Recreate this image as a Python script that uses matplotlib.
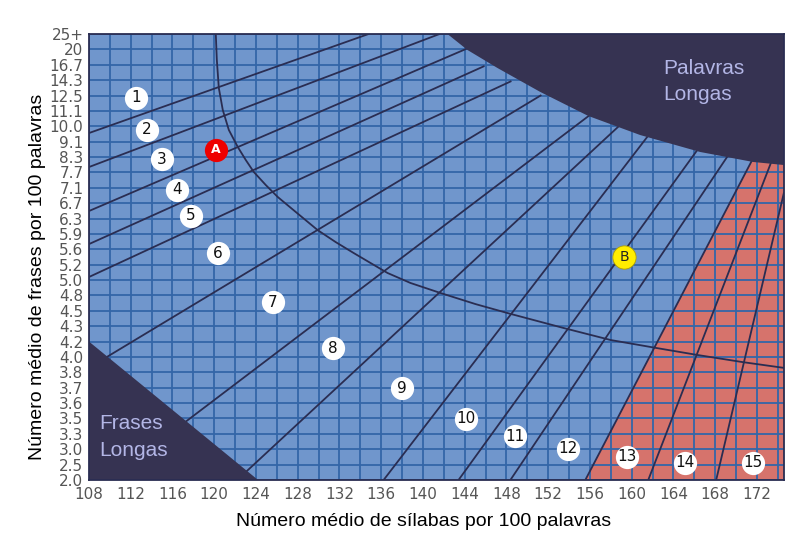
import matplotlib
matplotlib.use('Agg')
import matplotlib.pyplot as plt

# Eixos
x_ticks = [108, 112, 116, 120, 124, 128, 132, 136, 140, 144, 148, 152, 156, 160, 164, 168, 172]
y_labels = ['2.0', '2.5', '3.0', '3.3', '3.5', '3.6', '3.7', '3.8', '4.0', '4.2', '4.3', '4.5',
            '4.8', '5.0', '5.2', '5.6', '5.9', '6.3', '6.7', '7.1', '7.7', '8.3', '9.1', '10.0',
            '11.1', '12.5', '14.3', '16.7', '20', '25+']

# Linhas entre os níveis (x em sílabas, y em índice da linha da grelha)
line_x0 = [108, 108, 108, 108, 108, 108, 116, 122.2, 136.23, 143.41, 148.38, 155.56, 161.59, 168.1]
line_y0 = [22.56, 20.35, 17.49, 15.34, 13.2, 7.3, 3.14, 0, 0, 0, 0, 0, 0, 0]
line_x1 = [134.79, 141.59, 144.55, 145.9, 148.48, 151.35, 156.13, 159.0, 161.78, 166.5, 169.34, 171.6, 173.45, 174.6]
line_y1 = [29, 29, 28.15, 26.92, 25.94, 25.03, 23.8, 23.15, 22.56, 21.65, 21.2, 20.87, 20.8, 18.7]

# Curva
curve_x = [120.15, 120.25, 120.44, 120.82, 121.4, 122.26, 123.02, 123.79, 124.94, 126.09,
           127.81, 129.91, 131.64, 133.36, 134.98, 136.61, 138.81, 141.68, 145.03, 148.4,
           153.5, 158.0, 162.4, 166.3, 170.6, 174.7]
curve_y = [29.0, 27.31, 25.49, 24.06, 22.76, 21.65, 20.81, 20.03, 19.18, 18.40,
           17.43, 16.25, 15.47, 14.76, 14.11, 13.46, 12.81, 12.16, 11.44, 10.8,
           9.88, 9.10, 8.58, 8.13, 7.67, 7.28]

# Zonas
long_words_x = [142.35, 144.27, 147.14, 151.25, 155.85, 160.82, 166.56, 171.63, 174.6, 174.6]
long_words_y = [29.0, 27.96, 26.79, 25.23, 23.67, 22.43, 21.33, 20.68, 20.48, 29.0]
long_sent_x = [108, 108, 124.2]
long_sent_y = [0, 9, 0]
red_x = [155.56, 171.6, 174.6, 174.6]
red_y = [0, 20.87, 20.87, 0]

# Números dos níveis
grade_labels = [str(i) for i in range(1, 16)]
grade_x = [112.5, 113.55, 114.99, 116.42, 117.76, 120.34, 125.61, 131.35, 137.95, 144.08,
           148.86, 153.93, 159.58, 165.13, 171.64]
grade_y = [24.84, 22.76, 20.87, 18.86, 17.17, 14.76, 11.57, 8.58, 5.98, 3.97,
           2.86, 2.02, 1.50, 1.11, 1.11]

# Pontos A e B
point_a = (120.15, 21.46)
point_b = (159.29, 14.5)

blue = '#7096CC'
grid_c = '#3466A8'
navy = '#2A2D52'
dark = '#363352'
red = '#D6736C'
light_txt = '#B3B6E6'

fig = plt.figure(figsize=(8.05, 5.46), dpi=100)
ax = fig.add_axes([89 / 805, 1 - 480 / 546, 695 / 805, 446 / 546])
ax.set_facecolor(blue)
ax.set_xlim(108, 174.6)
ax.set_ylim(0, 29)

ax.fill(red_x, red_y, color=red, zorder=1, lw=0)

for gx in range(108, 176, 2):
    ax.axvline(gx, color=grid_c, lw=1.3, zorder=2)
for gy in range(0, 30):
    ax.axhline(gy, color=grid_c, lw=1.3, zorder=2)

for x0, y0, x1, y1 in zip(line_x0, line_y0, line_x1, line_y1):
    ax.plot([x0, x1], [y0, y1], color=navy, lw=1.3, zorder=3, solid_capstyle='butt')
ax.plot(curve_x, curve_y, color=navy, lw=1.3, zorder=3, solid_joinstyle='round')

ax.fill(long_words_x, long_words_y, color=dark, zorder=4, lw=0)
ax.fill(long_sent_x, long_sent_y, color=dark, zorder=4, lw=0)

ax.text(163.0, 25.9, 'Palavras\nLongas', color=light_txt, fontsize=15, family='Liberation Sans',
        ha='left', va='center', linespacing=1.5, zorder=5)
ax.text(109.0, 2.8, 'Frases\nLongas', color=light_txt, fontsize=15, family='Liberation Sans',
        ha='left', va='center', linespacing=1.5, zorder=5)

ax.scatter(grade_x, grade_y, s=280, color='white', zorder=6, lw=0)
for lab, gx, gy in zip(grade_labels, grade_x, grade_y):
    ax.text(gx, gy, lab, ha='center', va='center', fontsize=11, color='#111111', zorder=7)

ax.scatter([point_a[0]], [point_a[1]], s=280, color='#EE0000', zorder=6, lw=0)
ax.text(point_a[0], point_a[1], 'A', ha='center', va='center', fontsize=9, color='white',
        fontweight='bold', zorder=7)
ax.scatter([point_b[0]], [point_b[1]], s=280, color='#FFEE00', edgecolor='#B0A000', lw=0.6, zorder=6)
ax.text(point_b[0], point_b[1], 'B', ha='center', va='center', fontsize=10, color='#222222', zorder=7)

ax.set_xticks(x_ticks)
ax.set_yticks(range(len(y_labels)))
ax.set_yticklabels(y_labels)
ax.tick_params(length=0, labelsize=11, labelcolor='#555555')
ax.tick_params(axis='y', pad=4)
ax.tick_params(axis='x', pad=5)
for sp in ax.spines.values():
    sp.set_color(navy)
    sp.set_linewidth(1.3)
    sp.set_zorder(8)

fig.text(424 / 805, 1 - 521 / 546, 'Número médio de sílabas por 100 palavras', ha='center',
         va='center', fontsize=14, family='Liberation Sans')
fig.text(38 / 805, 1 - 277 / 546, 'Número médio de frases por 100 palavras', ha='center',
         va='center', rotation=90, fontsize=14, family='Liberation Sans')

fig.savefig('out.png', dpi=100)
